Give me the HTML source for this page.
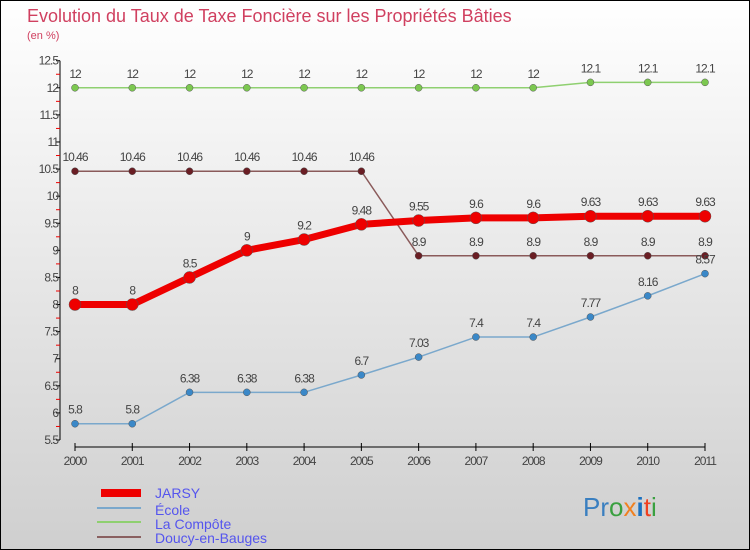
<!DOCTYPE html>
<html><head><meta charset="utf-8"><style>
body{margin:0}
svg{display:block;font-family:"Liberation Sans",sans-serif}
</style></head><body>
<svg width="750" height="550" id="c">
<defs><linearGradient id="bg" x1="0" y1="0" x2="0" y2="1"><stop offset="0" stop-color="#ffffff"/><stop offset="1" stop-color="#cfcfcf"/></linearGradient></defs>
<rect x="0.5" y="0.5" width="749" height="549" fill="url(#bg)" stroke="#000"/>
<text x="27" y="22" font-size="18" fill="#d04060">Evolution du Taux de Taxe Foncière sur les Propriétés Bâties</text>
<text x="27" y="39" font-size="11" fill="#d04060">(en %)</text>
<g id="axes"></g><g id="series"></g>
<g>
<rect x="101" y="489" width="40" height="8" fill="#e00"/>
<line x1="97" y1="508" x2="141" y2="508" stroke="#7aa8cc" stroke-width="2"/>
<line x1="97" y1="522" x2="141" y2="522" stroke="#8fd070" stroke-width="2"/>
<line x1="97" y1="537" x2="141" y2="537" stroke="#8a6060" stroke-width="2"/>
<g font-size="14" fill="#5555ee">
<text x="155" y="498">JARSY</text>
<text x="155" y="515">École</text>
<text x="155" y="529">La Compôte</text>
<text x="155" y="543">Doucy-en-Bauges</text>
</g></g>
<text x="583" y="516" font-size="26"><tspan fill="#3a7fc0">Pr</tspan><tspan fill="#3aa040">o</tspan><tspan fill="#f08020">x</tspan><tspan fill="#1a70c0" font-weight="bold">i</tspan><tspan fill="#f04020">t</tspan><tspan fill="#3aa040">i</tspan></text>
</svg>
<script>
const years=[2000,2001,2002,2003,2004,2005,2006,2007,2008,2009,2010,2011];
const jarsy=[8,8,8.5,9,9.2,9.48,9.55,9.6,9.6,9.63,9.63,9.63];
const ecole=[5.8,5.8,6.38,6.38,6.38,6.7,7.03,7.4,7.4,7.77,8.16,8.57];
const compote=[12,12,12,12,12,12,12,12,12,12.1,12.1,12.1];
const doucy=[10.46,10.46,10.46,10.46,10.46,10.46,8.9,8.9,8.9,8.9,8.9,8.9];
const yTicks=[5.5,6,6.5,7,7.5,8,8.5,9,9.5,10,10.5,11,11.5,12,12.5];
const NS="http://www.w3.org/2000/svg";
const x=i=>75+i*(630/11);
const y=v=>440-(v-5.5)*(379.3/7);
function mk(t,a,p){const e=document.createElementNS(NS,t);for(const k in a)e.setAttribute(k,a[k]);p.appendChild(e);return e;}
const ax=document.getElementById('axes');
const yl=mk('line',{x1:60,y1:y(12.5),x2:60,y2:y(5.5),stroke:'#000'},ax);


yTicks.forEach((v,i)=>{
 mk('line',{x1:56,x2:60,y1:y(v),y2:y(v),stroke:'#000'},ax);
 if(i<yTicks.length-1)mk('line',{x1:56,x2:60,y1:y(v+0.25),y2:y(v+0.25),stroke:'#e00'},ax);
 const t=mk('text',{x:58,y:y(v)+4,'text-anchor':'end','font-size':12,fill:'#444','letter-spacing':'-1'},ax);
 t.textContent=String(v);
 
 
});
const xl=mk('line',{x1:75,y1:447,x2:705,y2:447,stroke:'#000'},ax);


years.forEach((yr,i)=>{
 mk('line',{x1:x(i),x2:x(i),y1:443,y2:451,stroke:'#000'},ax);
 const t=mk('text',{x:x(i),y:465,'text-anchor':'middle','font-size':12,fill:'#444','letter-spacing':'-1'},ax);
 t.textContent=yr;
 
 
});
const sg=document.getElementById('series');
function series(vals,name,color,dot,w,r){
 const g=mk('g',{},sg);
 
 
 mk('polyline',{points:vals.map((v,i)=>x(i)+','+y(v)).join(' '),fill:'none',stroke:color,'stroke-width':w,'stroke-linejoin':'round'},g);
 vals.forEach((v,i)=>{
  const c=mk('circle',{cx:x(i),cy:y(v),r:r,fill:dot,stroke:'#555','stroke-width':0.5},g);
  
  
  const t=mk('text',{x:x(i),y:y(v)-10,'text-anchor':'middle','font-size':12,fill:'#444','letter-spacing':'-1'},g);
  t.textContent=String(v);
  
  
 });
}
series(compote,'la-compote','#8fd070','#7cc850',1.5,3.5);
series(doucy,'doucy','#8a5a5a','#6a1e24',1.5,3.5);
series(ecole,'ecole','#7aa8cc','#3a88c8',1.5,3.5);
series(jarsy,'jarsy','#ee0000','#ee0000',7,6);
</script>
</body></html>
